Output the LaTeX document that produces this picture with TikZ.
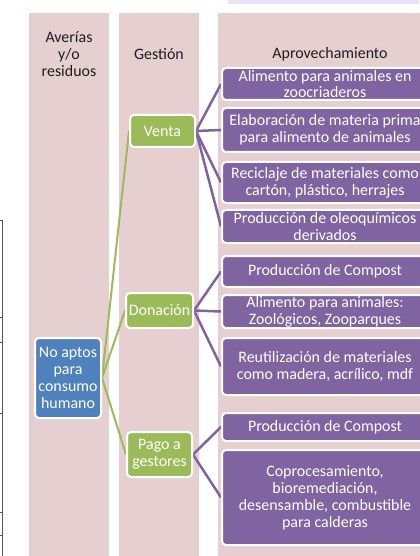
\documentclass[tikz,border=0pt]{standalone}
\usepackage{fontspec}
\setmainfont{Carlito}
\usetikzlibrary{backgrounds}
\definecolor{colpink}{HTML}{E6CFD0}
\definecolor{nblue}{HTML}{4F81BD}
\definecolor{ngreen}{HTML}{9BBB59}
\definecolor{npurple}{HTML}{8064A2}
\definecolor{hdr}{HTML}{1E1E1E}
\definecolor{lav}{HTML}{EAE3F8}
\definecolor{edgeline}{HTML}{555555}
\begin{document}
\begin{tikzpicture}[x=1bp,y=-1bp,
 every node/.style={font=\fontsize{16}{17}\selectfont, align=center, inner sep=1bp},
 hdrtext/.style={text=hdr},
 nbox/.style={draw=white, line width=2bp, rounded corners=4bp, text=white},
 bluebox/.style={nbox, fill=nblue},
 greenbox/.style={nbox, fill=ngreen},
 purplebox/.style={nbox, fill=npurple, minimum width=206bp},
 glink/.style={draw=ngreen, line width=2bp},
 plink/.style={draw=npurple, line width=2.5bp},
 edgerule/.style={draw=edgeline, line width=0.8bp},
]
\useasboundingbox (0,0) rectangle (419,556);
\begin{pgfonlayer}{background}
\fill[lav] (229,0) -- (419,0) -- (419,4) -- (227,4) -- cycle;
\fill[colpink] (29,13) rectangle (109,556);
\fill[colpink] (119,13) rectangle (199,556);
\fill[colpink] (218,13) rectangle (445,556);
\end{pgfonlayer}
% left edge rules
\draw[edgerule] (2.6,220) -- (2.6,556);
\foreach \yy in {220,317,342,413,512,535} {\draw[edgerule] (0,\yy) -- (3.2,\yy);}
% headers
\node[hdrtext] (h1) at (69,54) {Averías\\y/o\\residuos};
\node[hdrtext] (h2) at (159,54) {Gestión};
\node[hdrtext] (h3) at (330,54) {Aprovechamiento};
% blue
\node[bluebox, minimum width=66bp, minimum height=80bp] (na) at (68,378) {No aptos\\para\\consumo\\humano};
% green
\node[greenbox, minimum width=65bp, minimum height=32bp] (venta) at (162.5,131) {Venta};
\node[greenbox, minimum width=67bp, minimum height=35bp] (don) at (159.5,310.5) {Donación};
\node[greenbox, minimum width=65bp, minimum height=45bp] (pago) at (159.5,454.5) {Pago a\\gestores};
% purple
\node[purplebox, minimum height=32bp] (p1) at (325,84) {Alimento para animales en\\zoocriaderos};
\node[purplebox, minimum height=44bp] (p2) at (325,130) {Elaboración de materia prima\\para alimento de animales};
\node[purplebox, minimum height=41bp] (p3) at (325,182.5) {Reciclaje de materiales como\\cartón, plástico, herrajes};
\node[purplebox, minimum height=33bp] (p4) at (325,226.5) {Producción de oleoquímicos\\derivados};
\node[purplebox, minimum height=31bp] (p5) at (325,271.5) {Producción de Compost};
\node[purplebox, minimum height=33bp] (p6) at (325,311.5) {Alimento para animales:\\Zoológicos, Zooparques};
\node[purplebox, minimum height=57bp] (p7) at (325,366.5) {Reutilización de materiales\\como madera, acrílico, mdf};
\node[purplebox, minimum height=28bp] (p8) at (325,427) {Producción de Compost};
\node[purplebox, minimum height=95bp] (p9) at (325,497.5) {Coprocesamiento,\\bioremediación,\\desensamble, combustible\\para calderas};
% connectors
\begin{pgfonlayer}{background}
\draw[glink] (na.east) -- (venta.west);
\draw[glink] (na.east) -- (don.west);
\draw[glink] (na.east) -- (pago.west);
\foreach \t in {p1,p2,p3,p4} {\draw[plink] (venta.east) -- (\t.west);}
\foreach \t in {p5,p6,p7} {\draw[plink] (don.east) -- (\t.west);}
\foreach \t in {p8,p9} {\draw[plink] (pago.east) -- (\t.west);}
\end{pgfonlayer}
\end{tikzpicture}
\end{document}
